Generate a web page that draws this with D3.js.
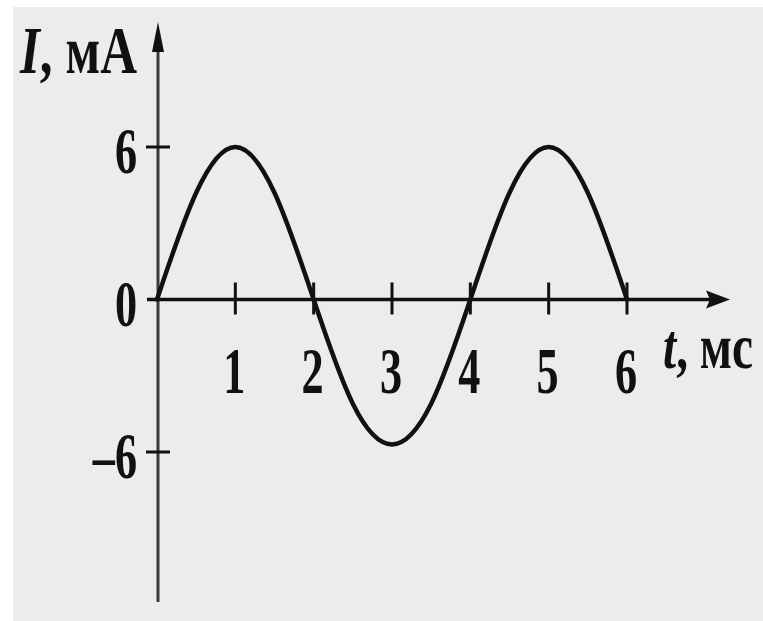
<!DOCTYPE html>
<html>
<head>
<meta charset="utf-8">
<script src="https://cdn.jsdelivr.net/npm/d3@7"></script>
<style>
  html, body { margin: 0; padding: 0; background: #ffffff; }
  svg { display: block; }
  text { font-family: "Liberation Serif", "Times New Roman", serif; font-weight: bold; fill: #111; }
</style>
</head>
<body>
<svg id="chart" width="763" height="621"></svg>
<script>
// Current I (mA) against time t (ms)
const timeMs = [0, 0.5, 1, 1.5, 2, 2.5, 3, 3.5, 4, 4.5, 5, 5.5, 6];
const currentMA = [0, 4.2, 6, 4.2, 0, -4.1, -5.7, -4.1, 0, 4.2, 6, 4.2, 0];
const xTicks = [1, 2, 3, 4, 5, 6];
const yTicks = [6, 0, -6];

const svg = d3.select("#chart");
const W = 763, H = 621;

// paper background
svg.append("rect").attr("x", 13).attr("y", 7).attr("width", W - 13).attr("height", H - 7)
  .attr("fill", "#ececec");

const x = d3.scaleLinear().domain([0, 6]).range([157, 627]);
const y = d3.scaleLinear().domain([-6, 6]).range([452, 147]);

const ink = "#111";
const sx = 0.67;   // narrow type
const fs = 66;

// vertical axis with arrow
svg.append("line").attr("x1", x(0) + 1).attr("x2", x(0) + 1).attr("y1", 602).attr("y2", 48)
  .attr("stroke", "#3a3a3a").attr("stroke-width", 3);
svg.append("path")
  .attr("d", `M${x(0) + 1},22 L${x(0) - 5},52 L${x(0) + 7},52 Z`)
  .attr("fill", ink);

// horizontal axis with arrow
svg.append("line").attr("x1", 147).attr("x2", 712).attr("y1", y(0)).attr("y2", y(0))
  .attr("stroke", ink).attr("stroke-width", 3.5);
svg.append("path")
  .attr("d", `M730,${y(0)} L706,${y(0) - 9} L710,${y(0)} L706,${y(0) + 9} Z`)
  .attr("fill", ink);

// x ticks and labels
svg.selectAll(".xt").data(xTicks).join("line")
  .attr("x1", d => x(d)).attr("x2", d => x(d))
  .attr("y1", y(0) - 17).attr("y2", y(0) + 15)
  .attr("stroke", ink).attr("stroke-width", 3);
svg.selectAll(".xl").data(xTicks).join("text")
  .attr("text-anchor", "middle")
  .attr("font-size", fs)
  .attr("transform", d => `translate(${x(d) - 1},393) scale(${sx},1)`)
  .text(d => d);

// y ticks and labels
svg.selectAll(".yt").data(yTicks.filter(d => d !== 0)).join("line")
  .attr("x1", x(0) - 11).attr("x2", x(0) + 13)
  .attr("y1", d => y(d)).attr("y2", d => y(d))
  .attr("stroke", ink).attr("stroke-width", 3);
svg.selectAll(".yl").data(yTicks).join("text")
  .attr("text-anchor", "end")
  .attr("font-size", fs)
  .attr("transform", d => `translate(137,${y(d) + 26}) scale(${sx},1)`)
  .text(d => d < 0 ? "–" + Math.abs(d) : d);

// the current curve
const line = d3.line()
  .x((d, i) => x(timeMs[i]))
  .y(d => y(d))
  .curve(d3.curveNatural);
svg.append("path")
  .attr("d", line(currentMA))
  .attr("fill", "none")
  .attr("stroke", ink)
  .attr("stroke-width", 4.5)
  .attr("stroke-linecap", "round");

// axis titles, squeezed horizontally to a given width
function title(x0, y0, size, width, sym, unit) {
  const t = svg.append("text").attr("font-size", size);
  t.append("tspan").attr("font-style", "italic").text(sym);
  t.append("tspan").text(unit);
  const w = t.node().getComputedTextLength();
  t.attr("transform", `translate(${x0},${y0}) scale(${width / w},1)`);
}
title(20, 73, 68, 117, "I", ", мА");
title(663, 368, 64, 90, "t", ", мс");
</script>
</body>
</html>
